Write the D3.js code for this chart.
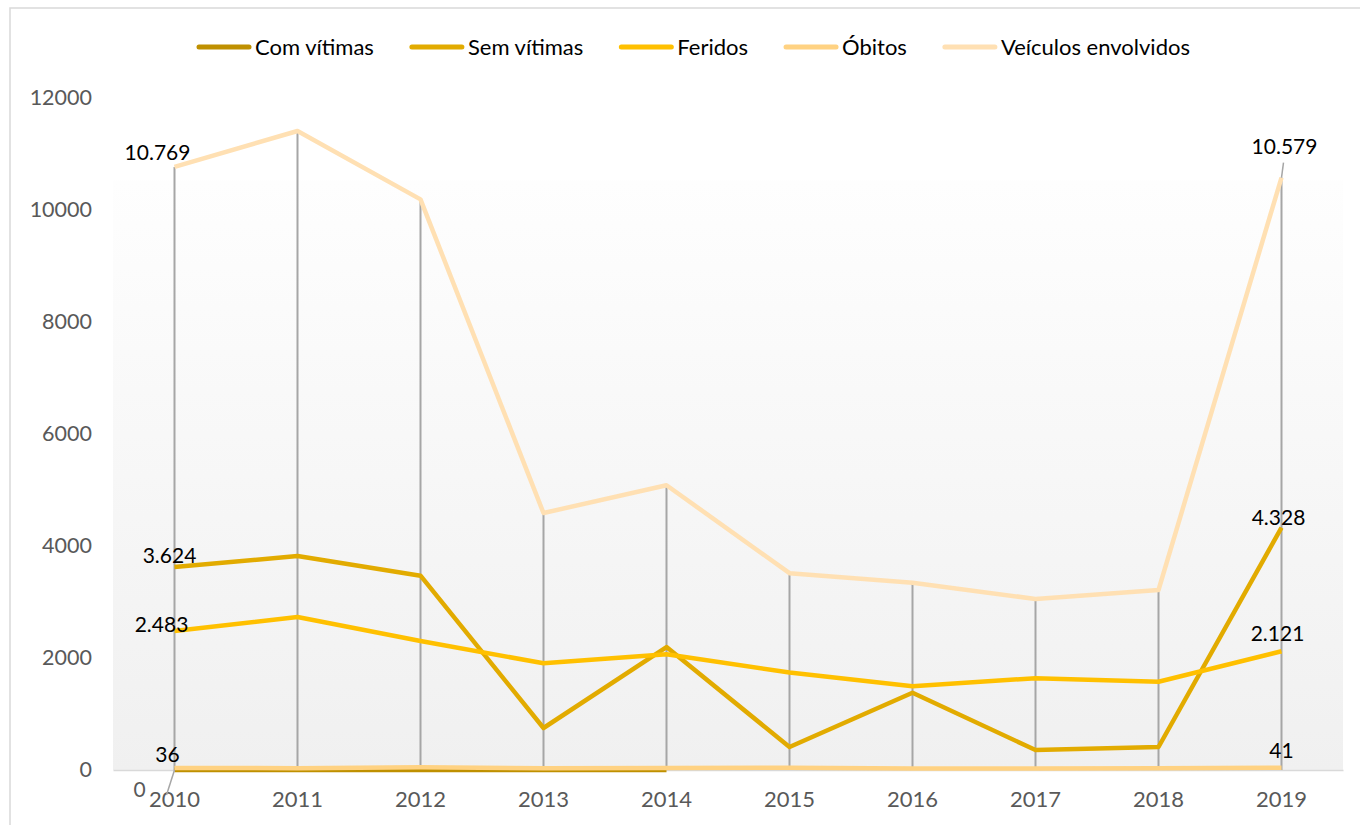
<!DOCTYPE html>
<html>
<head>
<meta charset="utf-8">
<script src="https://cdn.jsdelivr.net/npm/d3@7"></script>
<style>
  body { margin: 0; background: #fff; }
  svg { display: block; font-family: Lato, "Open Sans", sans-serif; }
</style>
</head>
<body>
<div id="chart"></div>
<script>
// Acidentes por ano: 5 series
const years = ["2010", "2011", "2012", "2013", "2014", "2015", "2016", "2017", "2018", "2019"];
const comVitimas = [0, 0, 0, 0, 0, null, null, null, null, null];
const semVitimas = [3624, 3821, 3470, 750, 2196, 411, 1380, 357, 411, 4328];
const feridos = [2483, 2732, 2304, 1905, 2066, 1740, 1495, 1640, 1575, 2121];
const obitos = [36, 33, 48, 30, 35, 39, 29, 27, 31, 41];
const veiculos = [10769, 11411, 10190, 4589, 5085, 3515, 3345, 3054, 3214, 10579];
const yTicks = [0, 2000, 4000, 6000, 8000, 10000, 12000];

const series = [
  { name: "Com vítimas", values: comVitimas, color: "#BF9000" },
  { name: "Sem vítimas", values: semVitimas, color: "#E2AB00" },
  { name: "Feridos", values: feridos, color: "#FFC000" },
  { name: "Óbitos", values: obitos, color: "#FFD282" },
  { name: "Veículos envolvidos", values: veiculos, color: "#FFE0B3" }
];

const WIDTH = 1360, HEIGHT = 825;
const plot = { left: 113, right: 1343, top: 98, bottom: 770 };

const svg = d3.select("#chart").append("svg")
  .attr("width", WIDTH).attr("height", HEIGHT);

const x = d3.scaleBand().domain(years).range([plot.left, plot.right]);
const cx = d => x(d) + x.bandwidth() / 2;
const y = d3.scaleLinear().domain([0, 12000]).range([plot.bottom, plot.top]);

// chart frame (cropped in the original)
svg.append("path")
  .attr("d", `M10,${HEIGHT + 5} L10,8 L${WIDTH + 5},8`)
  .attr("fill", "none").attr("stroke", "#d9d9d9").attr("stroke-width", 1.5);

// plot area gradient
const defs = svg.append("defs");
const grad = defs.append("linearGradient").attr("id", "plotbg")
  .attr("x1", 0).attr("x2", 0).attr("y1", 0).attr("y2", 1);
grad.append("stop").attr("offset", "0%").attr("stop-color", "#ffffff");
grad.append("stop").attr("offset", "12%").attr("stop-color", "#ffffff");
grad.append("stop").attr("offset", "12.5%").attr("stop-color", "#fefefe");
grad.append("stop").attr("offset", "100%").attr("stop-color", "#f0f0f0");
svg.append("rect")
  .attr("x", plot.left).attr("y", plot.top)
  .attr("width", plot.right - plot.left).attr("height", plot.bottom - plot.top)
  .attr("fill", "url(#plotbg)");

// y axis labels (no line)
const yAxis = svg.append("g")
  .attr("transform", `translate(${plot.left - 21},0)`)
  .call(d3.axisLeft(y).tickValues(yTicks).tickSize(0).tickPadding(0).tickFormat(d3.format("d")));
yAxis.select(".domain").remove();
yAxis.selectAll("text").attr("fill", "#595959").attr("font-size", 21.5)
  .attr("font-family", "Lato, sans-serif");

// x axis
const xAxis = svg.append("g")
  .attr("transform", `translate(0,${plot.bottom})`)
  .call(d3.axisBottom(x).tickSize(0).tickPadding(21));
xAxis.select(".domain").attr("stroke", "#d9d9d9").attr("stroke-width", 1.5);
xAxis.selectAll("text").attr("fill", "#595959").attr("font-size", 22)
  .attr("font-family", "Lato, sans-serif");

// drop lines from the top series down to the axis
svg.append("g").selectAll("line")
  .data(years)
  .join("line")
    .attr("x1", cx).attr("x2", cx)
    .attr("y1", (d, i) => y(d3.max(series, s => s.values[i] || 0)))
    .attr("y2", plot.bottom)
    .attr("stroke", "#a6a6a6").attr("stroke-width", 2);

// lines
const line = d3.line()
  .defined(d => d.v != null)
  .x(d => cx(d.year))
  .y(d => y(d.v));

svg.append("g").selectAll("path")
  .data(series)
  .join("path")
    .attr("fill", "none")
    .attr("stroke", d => d.color)
    .attr("stroke-width", 4.5)
    .attr("stroke-linejoin", "round")
    .attr("d", s => line(years.map((yr, i) => ({ year: yr, v: s.values[i] }))));

// data labels (first and last year)
const labelFmt = v => d3.format(",d")(v).replace(/,/g, ".");
const labels = [
  { s: 4, i: 0, dx: -17, dy: -7 },
  { s: 4, i: 9, dx: 3, dy: -24 },
  { s: 1, i: 0, dx: -5, dy: -4 },
  { s: 1, i: 9, dx: -3, dy: -3 },
  { s: 2, i: 0, dx: -13, dy: 1 },
  { s: 2, i: 9, dx: -4, dy: -10 },
  { s: 3, i: 0, dx: -7, dy: -6 },
  { s: 3, i: 9, dx: 0, dy: -10 },
  { s: 0, i: 0, dx: -35, dy: 27, color: "#595959" }
];
svg.append("g").selectAll("text")
  .data(labels)
  .join("text")
    .attr("x", d => cx(years[d.i]) + d.dx)
    .attr("y", d => y(series[d.s].values[d.i]) + d.dy)
    .attr("text-anchor", "middle")
    .attr("font-size", 21)
    .attr("fill", d => d.color || "#000")
    .text(d => labelFmt(series[d.s].values[d.i]));

// leader lines for displaced labels
svg.append("line")
  .attr("x1", cx("2010")).attr("y1", y(0))
  .attr("x2", cx("2010") - 8).attr("y2", y(0) + 25)
  .attr("stroke", "#a6a6a6").attr("stroke-width", 1.5);
svg.append("line")
  .attr("x1", cx("2019") + 2).attr("y1", y(veiculos[9]) - 15)
  .attr("x2", cx("2019")).attr("y2", y(veiculos[9]))
  .attr("stroke", "#a6a6a6").attr("stroke-width", 1.5);

// legend: swatch + text, items laid out by measured text width
const legend = svg.append("g").attr("transform", "translate(0,47)");
let lx = 197;
series.forEach(s => {
  const g = legend.append("g").attr("transform", `translate(${lx},0)`);
  g.append("line")
    .attr("x1", 2).attr("x2", 52)
    .attr("stroke", s.color).attr("stroke-width", 5).attr("stroke-linecap", "round");
  const t = g.append("text")
    .attr("x", 58).attr("y", 8)
    .attr("font-size", 22).attr("fill", "#000")
    .text(s.name);
  lx += 58 + t.node().getComputedTextLength() + 36;
});
</script>
</body>
</html>
